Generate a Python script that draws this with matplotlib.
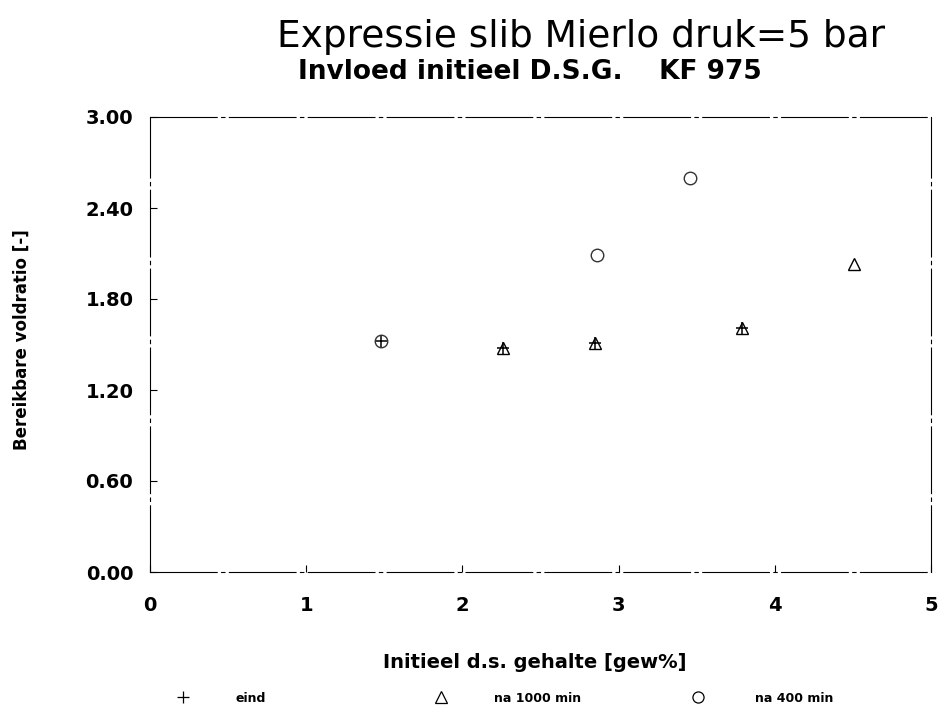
import matplotlib
matplotlib.use("Agg")
import matplotlib.pyplot as plt
from matplotlib.lines import Line2D

plt.rcParams['font.family'] = ['DejaVu Sans']

# Initial dry-solids content [gew%] and attainable volume ratio [-]
x_eind = [1.48, 2.26, 2.85, 3.79]
y_eind = [1.52, 1.48, 1.51, 1.61]

x_1000 = [2.26, 2.85, 3.79, 4.51]
y_1000 = [1.48, 1.51, 1.61, 2.03]

x_400 = [1.48, 2.86, 3.46]
y_400 = [1.52, 2.09, 2.60]

x_ticks = [0, 1, 2, 3, 4, 5]
y_ticks = [0.0, 0.6, 1.2, 1.8, 2.4, 3.0]

fig = plt.figure(figsize=(9.39, 7.11), dpi=100)
W, H = 939, 711
left, right, top, bottom = 150, 931, 117, 572
ax = fig.add_axes([left / W, 1 - bottom / H, (right - left) / W, (bottom - top) / H])

ax.plot(x_eind, y_eind, linestyle='none', marker='+', markersize=9,
        markeredgewidth=1.1, color='black')
ax.plot(x_1000, y_1000, linestyle='none', marker='^', markersize=8,
        markerfacecolor='none', markeredgewidth=1.0, color='black')
ax.plot(x_400, y_400, linestyle='none', marker='o', markersize=9,
        markerfacecolor='none', markeredgewidth=1.0, color='#333333')

ax.set_xlim(0, 5)
ax.set_ylim(0, 3.0)
ax.set_xticks(x_ticks)
ax.set_yticks(y_ticks)
ax.set_xticklabels([str(v) for v in x_ticks], fontsize=14, fontweight='bold')
ax.set_yticklabels([f"{v:.2f}" for v in y_ticks], fontsize=14, fontweight='bold')
ax.tick_params(direction='in', length=5, width=0.8)
ax.tick_params(axis='y', pad=12)
ax.tick_params(axis='x', pad=17)

for s in ax.spines.values():
    s.set_linewidth(0.8)
    s.set_linestyle((0, (60, 4, 3, 4)))

fig.text(581 / W, 1 - 37 / H, "Expressie slib Mierlo druk=5 bar",
         ha='center', va='center', fontsize=27)
fig.text(530 / W, 1 - 72 / H, "Invloed initieel D.S.G.    KF 975",
         ha='center', va='center', fontsize=19, fontweight='bold')

fig.text(22 / W, 1 - 340 / H, "Bereikbare voldratio [-]", rotation=90,
         ha='center', va='center', fontsize=12, fontweight='bold')
fig.text(535 / W, 1 - 662 / H, "Initieel d.s. gehalte [gew%]",
         ha='center', va='center', fontsize=14, fontweight='bold')

# Legend row beneath the axis title
legend_items = [
    ('+', 183, 235, "eind"),
    ('^', 441, 494, "na 1000 min"),
    ('o', 698, 755, "na 400 min"),
]
for mk, mx, tx, label in legend_items:
    fig.add_artist(Line2D([mx / W], [1 - 697 / H], marker=mk, linestyle='none',
                          markersize=8, markerfacecolor='none',
                          markeredgecolor='black', markeredgewidth=0.9,
                          transform=fig.transFigure))
    fig.text(tx / W, 1 - 698 / H, label, ha='left', va='center',
             fontsize=9, fontweight='bold')

fig.savefig("out.png", dpi=100, facecolor='white')
